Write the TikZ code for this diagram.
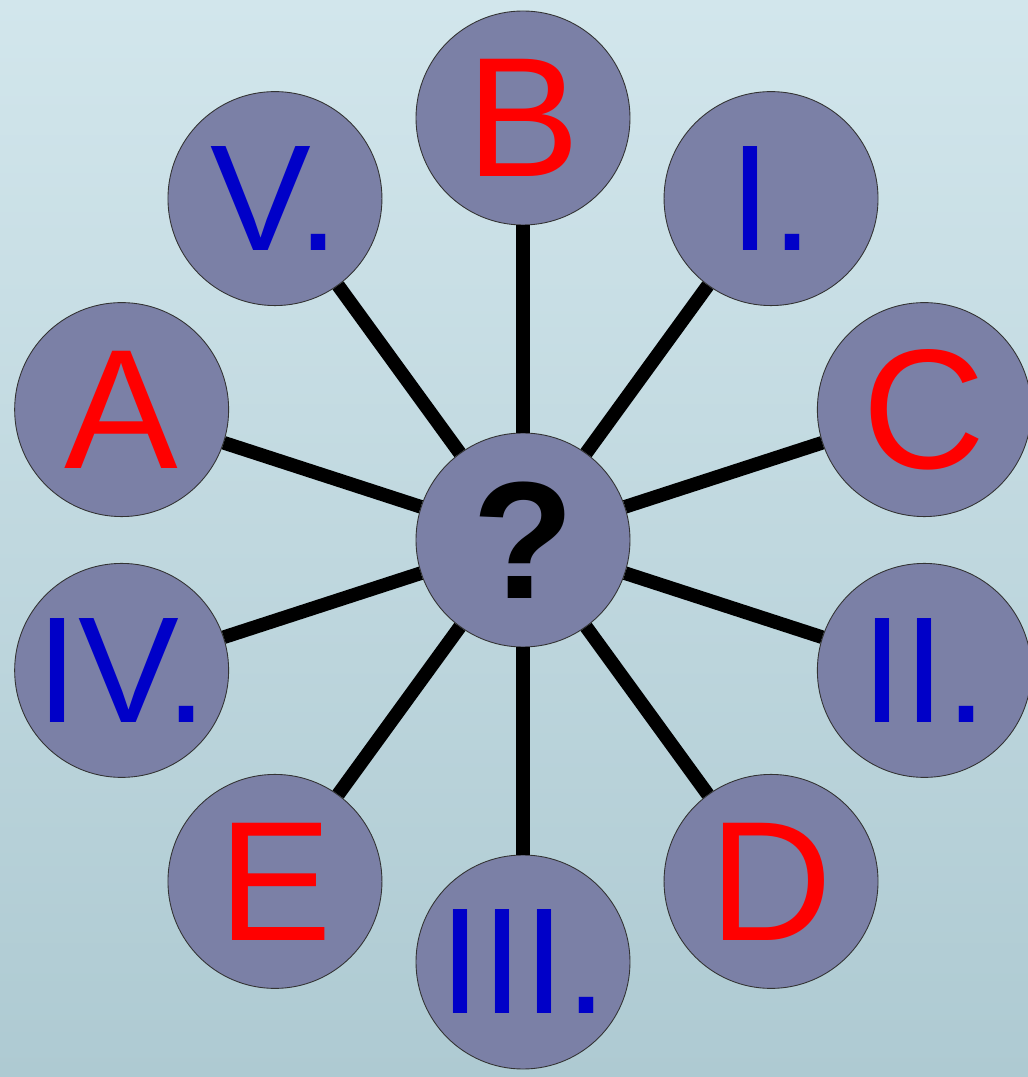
\documentclass[tikz,border=0pt]{standalone}
\usepackage{fontspec}
\usepackage{xcolor}
\usepackage{tikz}
\setmainfont{Liberation Sans}
\definecolor{bgtop}{RGB}{210, 230, 236}
\definecolor{bgbottom}{RGB}{174, 202, 210}
\definecolor{slate}{RGB}{123, 128, 166}
\definecolor{letterred}{RGB}{255, 0, 0}
\definecolor{numblue}{RGB}{0, 0, 200}
\tikzset{
 bubble/.style={
 circle,
 draw=black!80,
 line width=0.5pt,
 fill=slate,
 minimum size=4.28cm,
 inner sep=0pt
 },
 letter/.style={
 bubble,
 text=letterred,
 font=\fontsize{97}{97}\selectfont
 },
 numeral/.style={
 bubble,
 text=numblue,
 font=\fontsize{86}{86}\selectfont
 },
 hub/.style={
 bubble,
 text=black,
 font=\fontsize{95}{95}\selectfont\bfseries
 },
 spoke/.style={line width=7.8pt, draw=black}
}

\begin{document}
\begin{tikzpicture}
 \shade[top color=bgtop, bottom color=bgbottom] (-10.46,-10.74) rectangle (10.10,10.80);
 \useasboundingbox (-10.46,-10.74) rectangle (10.10,10.80);
 \node[hub] (quest) at (0,0) {?};
 \node[letter] (nb) at (90:8.44) {B};
 \node[numeral] (n1) at (54:8.44) {I.};
 \node[letter] (nc) at (18:8.44) {C};
 \node[numeral] (n2) at (-18:8.44) {II.};
 \node[letter] (nd) at (-54:8.44) {D};
 \node[numeral] (n3) at (-90:8.44) {III.};
 \node[letter] (ne) at (-126:8.44) {E};
 \node[numeral] (n4) at (-162:8.44) {IV.};
 \node[letter] (na) at (162:8.44) {A};
 \node[numeral] (n5) at (126:8.44) {V.};
 \draw[spoke] (quest) -- (nb);
 \draw[spoke] (quest) -- (n1);
 \draw[spoke] (quest) -- (nc);
 \draw[spoke] (quest) -- (n2);
 \draw[spoke] (quest) -- (nd);
 \draw[spoke] (quest) -- (n3);
 \draw[spoke] (quest) -- (ne);
 \draw[spoke] (quest) -- (n4);
 \draw[spoke] (quest) -- (na);
 \draw[spoke] (quest) -- (n5);
\end{tikzpicture}
\end{document}
